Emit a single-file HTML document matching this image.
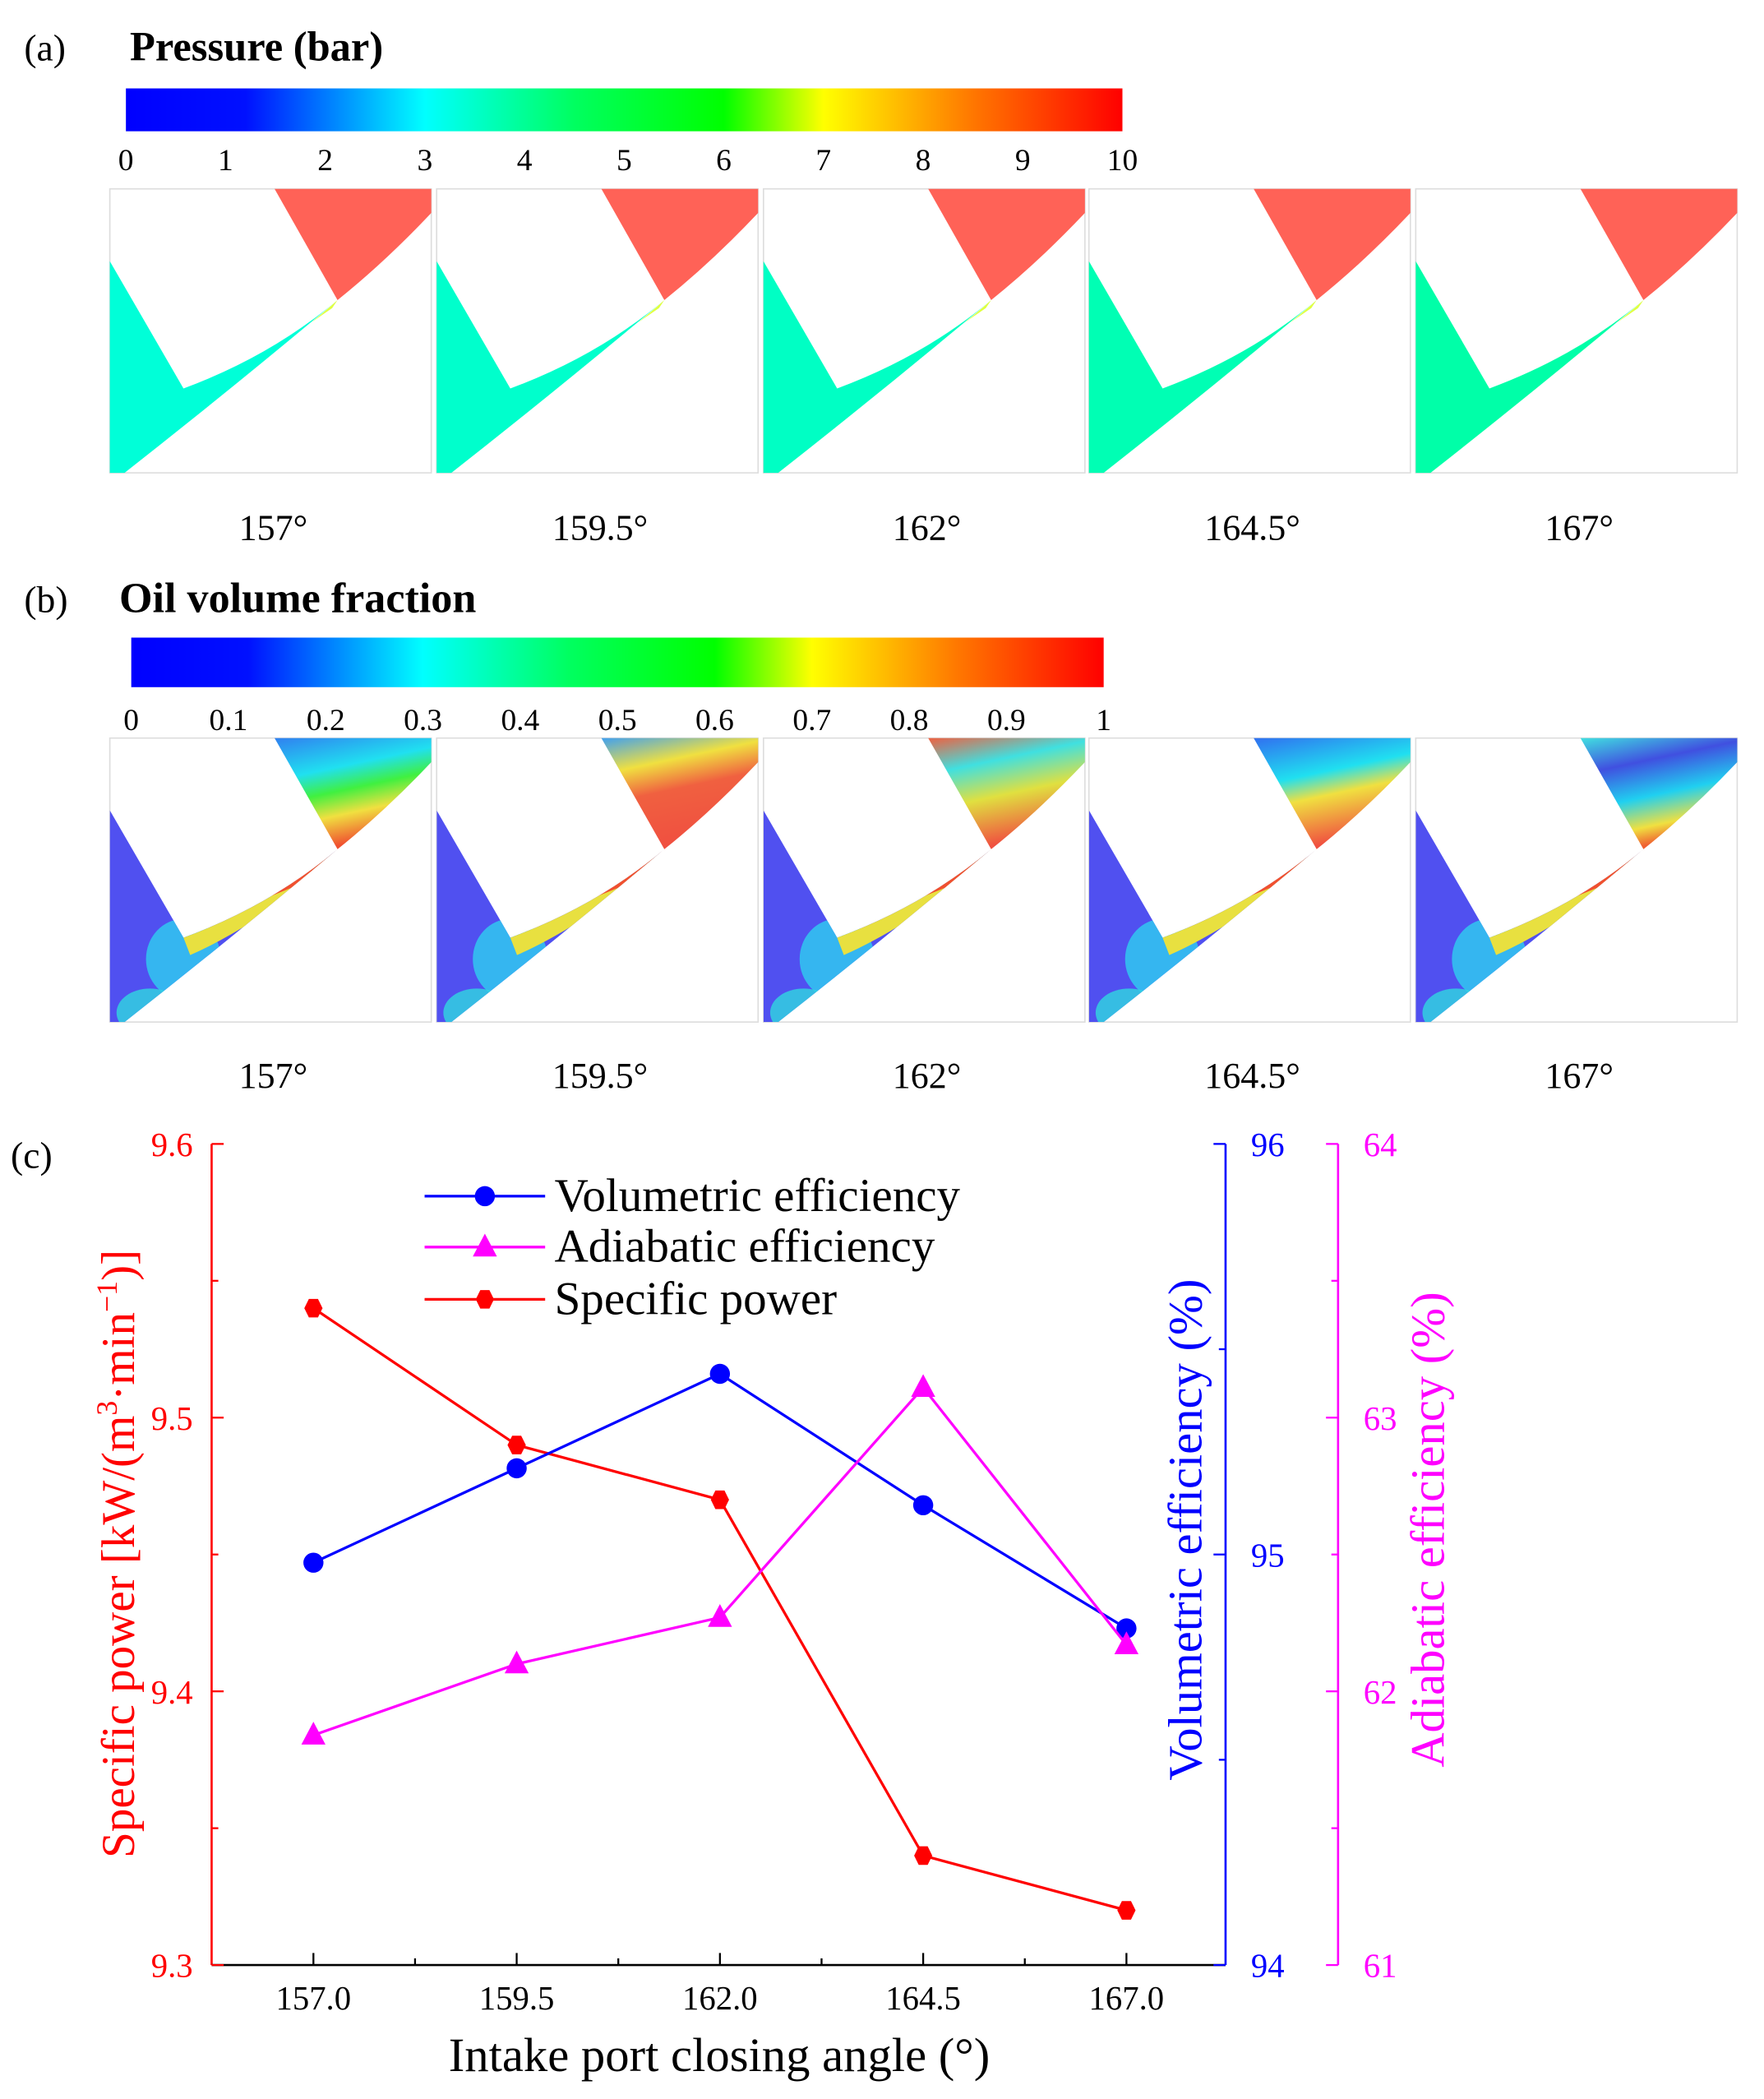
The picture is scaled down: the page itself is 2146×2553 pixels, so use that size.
<!DOCTYPE html>
<html><head><meta charset="utf-8"><style>
html,body{margin:0;padding:0;background:#fff}
svg{display:block}
text{font-family:"Liberation Serif",serif}
</style></head><body>
<svg id="fig" width="2146" height="2553" viewBox="0 0 1317 1567" preserveAspectRatio="none" xmlns="http://www.w3.org/2000/svg">
<defs>
<linearGradient id="jet" x1="0" x2="1" y1="0" y2="0">
<stop offset="0" stop-color="#0000ff"/><stop offset="0.12" stop-color="#0010ff"/><stop offset="0.3" stop-color="#00ffff"/><stop offset="0.45" stop-color="#00ff60"/><stop offset="0.6" stop-color="#00ff00"/><stop offset="0.7" stop-color="#ffff00"/><stop offset="0.85" stop-color="#ff7700"/><stop offset="1" stop-color="#ff0000"/></linearGradient>
<linearGradient id="oilR1" x1="0" x2="0.3" y1="0" y2="1"><stop offset="0" stop-color="#3080f0"/><stop offset="0.35" stop-color="#20e0f0"/><stop offset="0.55" stop-color="#40f040"/><stop offset="0.75" stop-color="#f0e040"/><stop offset="1" stop-color="#f05030"/></linearGradient>
<linearGradient id="oilR2" x1="0" x2="0.3" y1="0" y2="1"><stop offset="0" stop-color="#40a0f0"/><stop offset="0.3" stop-color="#f0e040"/><stop offset="0.55" stop-color="#f06040"/><stop offset="1" stop-color="#f05040"/></linearGradient>
<linearGradient id="oilR3" x1="0" x2="0.3" y1="0" y2="1"><stop offset="0" stop-color="#f06040"/><stop offset="0.3" stop-color="#40e0e0"/><stop offset="0.6" stop-color="#e0e040"/><stop offset="1" stop-color="#f05040"/></linearGradient>
<linearGradient id="oilR4" x1="0" x2="0.3" y1="0" y2="1"><stop offset="0" stop-color="#3070f0"/><stop offset="0.4" stop-color="#20e0f0"/><stop offset="0.6" stop-color="#f0e040"/><stop offset="1" stop-color="#f05040"/></linearGradient>
<linearGradient id="oilR5" x1="0" x2="0.3" y1="0" y2="1"><stop offset="0" stop-color="#40e0e0"/><stop offset="0.3" stop-color="#4050e0"/><stop offset="0.6" stop-color="#20d0f0"/><stop offset="0.85" stop-color="#f0e040"/><stop offset="1" stop-color="#f06030"/></linearGradient>
<clipPath id="wedge"><path d="M0,54 L55,149 Q120,125 170,83 Q90,150 11,212 L0,212 Z"/></clipPath>
</defs>

<text x="18" y="45" font-size="28">(a)</text>
<text x="97" y="45" font-size="31" font-weight="bold">Pressure (bar)</text>
<rect x="94" y="66" width="744" height="32" fill="url(#jet)"/>
<g id="pticks"></g>
<g id="prow"></g>

<text x="18" y="457" font-size="28">(b)</text>
<text x="89" y="457" font-size="32" font-weight="bold">Oil volume fraction</text>
<rect x="98" y="476" width="726" height="37" fill="url(#jet)"/>
<g id="oticks"></g>
<g id="orow"></g>

<text x="8" y="872" font-size="28">(c)</text>
<g id="chart"></g>
</svg>
<script>
const angles = [157.0, 159.5, 162.0, 164.5, 167.0];
const volEff = [94.98, 95.21, 95.44, 95.12, 94.82];
const adiEff = [61.84, 62.10, 62.27, 63.11, 62.17];
const specPow = [9.54, 9.49, 9.47, 9.34, 9.32];
const xTicks = ["157.0", "159.5", "162.0", "164.5", "167.0"];
const pLabels = ["0","1","2","3","4","5","6","7","8","9","10"];
const oLabels = ["0","0.1","0.2","0.3","0.4","0.5","0.6","0.7","0.8","0.9","1"];
const panelLabels = ["157°","159.5°","162°","164.5°","167°"];
const NS = "http://www.w3.org/2000/svg";
function mk(tag, attrs, parent, txt){const e=document.createElementNS(NS,tag);for(const k in attrs)e.setAttribute(k,attrs[k]);if(txt!==undefined)e.textContent=txt;parent.appendChild(e);return e;}

const pt=document.getElementById('pticks');
pLabels.forEach((l,i)=>{const t=mk('text',{x:94+i*74.4,y:127,'font-size':23,'text-anchor':'middle'},pt,l);

});
const ot=document.getElementById('oticks');
oLabels.forEach((l,i)=>{const t=mk('text',{x:98+i*72.6,y:545,'font-size':23,'text-anchor':'middle'},ot,l);

});

const px=[82,326,570,813,1057];
const teal=["#00ffd8","#00ffcc","#00ffc4","#00ffb4","#00ffa8"];
function panel(parent,x0,y0,i,oil){
  const g=mk('g',{transform:`translate(${x0},${y0})`},parent);
  
  
  mk('rect',{x:0,y:0,width:240,height:212,fill:'#fff',stroke:'#ddd','stroke-width':1},g);
  const rFill = oil?`url(#oilR${i+1})`:'#ff6257';
  mk('path',{d:'M123,0 L240,0 L240,18 Q205,55 170,83 Z',fill:rFill},g);
  if(oil){
    const w=mk('g',{'clip-path':'url(#wedge)'},g);
    mk('rect',{x:0,y:0,width:240,height:212,fill:'#5050f0'},w);
    mk('ellipse',{cx:55,cy:165,rx:28,ry:30,fill:'#30c8f0',opacity:0.85},w);
    mk('ellipse',{cx:30,cy:205,rx:25,ry:18,fill:'#30d8e0',opacity:0.8},w);
    mk('path',{d:'M55,149 Q120,125 170,83 L170,90 Q110,140 60,162 Z',fill:'#e8e040'},w);
    mk('path',{d:'M170,83 Q100,150 30,212 L45,212 Q110,150 170,83 Z',fill:'#40e070',opacity:0.9},w);
    mk('path',{d:'M120,118 Q150,100 170,83 L150,106 Z',fill:'#f05030'},w);
  } else {
    mk('path',{d:'M0,54 L55,149 Q120,125 170,83 Q90,150 11,212 L0,212 Z',fill:teal[i]},g);
    mk('path',{d:'M150,100 Q160,92 170,83 L166,89 Z',fill:'#e0ff40'},g);
  }
}
const prow=document.getElementById('prow'), orow=document.getElementById('orow');
px.forEach((x,i)=>{panel(prow,x,141,i,false);panel(orow,x,551,i,true);
  const a=mk('text',{x:x+122,y:403,'font-size':27,'text-anchor':'middle'},prow,panelLabels[i]);
  
  
  const b=mk('text',{x:x+122,y:812,'font-size':27,'text-anchor':'middle'},orow,panelLabels[i]);
  
  
});

const C=document.getElementById('chart');
const L=158,R=915,R2=999,T=854,B=1467;
const X=v=>234+(v-157)*60.7;
const Ys=v=>B-(v-9.3)/0.3*(B-T);
const Yv=v=>B-(v-94)/2*(B-T);
const Ya=v=>B-(v-61)/3*(B-T);
const RED='#ff0000',BLUE='#0000ff',MAG='#ff00ff';
let e;
e=mk('line',{x1:L,y1:T,x2:L,y2:B,stroke:RED,'stroke-width':1.6},C);

e=mk('line',{x1:L,y1:B,x2:R,y2:B,stroke:'#000','stroke-width':1.6},C);

e=mk('line',{x1:R,y1:T,x2:R,y2:B,stroke:BLUE,'stroke-width':1.6},C);

e=mk('line',{x1:R2,y1:T,x2:R2,y2:B,stroke:MAG,'stroke-width':1.6},C);

[9.3,9.4,9.5,9.6].forEach(v=>{mk('line',{x1:L,x2:L+9,y1:Ys(v),y2:Ys(v),stroke:RED,'stroke-width':1.4},C);
 e=mk('text',{x:L-14,y:Ys(v)+9,'font-size':25,fill:RED,'text-anchor':'end'},C,v.toFixed(1));
 });
[9.35,9.45,9.55].forEach(v=>mk('line',{x1:L,x2:L+5,y1:Ys(v),y2:Ys(v),stroke:RED,'stroke-width':1.4},C));
[94,95,96].forEach(v=>{mk('line',{x1:R,x2:R-9,y1:Yv(v),y2:Yv(v),stroke:BLUE,'stroke-width':1.4},C);
 e=mk('text',{x:R+19,y:Yv(v)+9,'font-size':25,fill:BLUE},C,String(v));
 });
[94.5,95.5].forEach(v=>mk('line',{x1:R,x2:R-5,y1:Yv(v),y2:Yv(v),stroke:BLUE,'stroke-width':1.4},C));
[61,62,63,64].forEach(v=>{mk('line',{x1:R2,x2:R2-9,y1:Ya(v),y2:Ya(v),stroke:MAG,'stroke-width':1.4},C);
 e=mk('text',{x:R2+19,y:Ya(v)+9,'font-size':25,fill:MAG},C,String(v));
 });
[61.5,62.5,63.5].forEach(v=>mk('line',{x1:R2,x2:R2-5,y1:Ya(v),y2:Ya(v),stroke:MAG,'stroke-width':1.4},C));
angles.forEach((v,i)=>{mk('line',{x1:X(v),x2:X(v),y1:B,y2:B-9,stroke:'#000','stroke-width':1.4},C);
 e=mk('text',{x:X(v),y:B+33,'font-size':25,'text-anchor':'middle'},C,xTicks[i]);
 
 if(i<angles.length-1) mk('line',{x1:X(v+1.25),x2:X(v+1.25),y1:B,y2:B-5,stroke:'#000','stroke-width':1.4},C);});
e=mk('text',{x:537,y:1546,'font-size':36,'text-anchor':'middle'},C,'Intake port closing angle (°)');

e=mk('text',{x:0,y:0,'font-size':35,fill:RED,'text-anchor':'middle',transform:'translate(100,1160) rotate(-90)'},C);
e.innerHTML='Specific power [kW/(m<tspan font-size="22" dy="-13">3</tspan><tspan dy="13">·min</tspan><tspan font-size="22" dy="-13">−1</tspan><tspan dy="13">)]</tspan>';

e=mk('text',{x:0,y:0,'font-size':36,fill:BLUE,'text-anchor':'middle',transform:'translate(897,1142) rotate(-90)'},C,'Volumetric efficiency (%)');

e=mk('text',{x:0,y:0,'font-size':36,fill:MAG,'text-anchor':'middle',transform:'translate(1078,1142) rotate(-90)'},C,'Adiabatic efficiency (%)');

function hex(cx,cy,r){let p=[];for(let k=0;k<6;k++){const a=k*Math.PI/3;p.push((cx+r*0.85*Math.cos(a)).toFixed(1)+','+(cy+r*Math.sin(a)).toFixed(1));}return p.join(' ');}
function series(vals,Y,col,shape,name){
 const pts=vals.map((v,i)=>X(angles[i])+','+Y(v)).join(' ');
 const l=mk('polyline',{points:pts,fill:'none',stroke:col,'stroke-width':2},C);
 
 vals.forEach((v,i)=>{const x=X(angles[i]),y=Y(v);let m;
  if(shape==='c')m=mk('circle',{cx:x,cy:y,r:7.5,fill:col},C);
  else if(shape==='t')m=mk('polygon',{points:`${x},${y-10} ${x-9},${y+7} ${x+9},${y+7}`,fill:col},C);
  else m=mk('polygon',{points:hex(x,y,8),fill:col},C);
  });
}
series(specPow,Ys,RED,'h','specific-power');
series(volEff,Yv,BLUE,'c','volumetric-efficiency');
series(adiEff,Ya,MAG,'t','adiabatic-efficiency');
const leg=[["Volumetric efficiency",BLUE,'c',893],["Adiabatic efficiency",MAG,'t',931],["Specific power",RED,'h',970]];
leg.forEach(([t,col,s,y])=>{mk('line',{x1:317,x2:407,y1:y,y2:y,stroke:col,'stroke-width':2},C);
 if(s==='c')mk('circle',{cx:362,cy:y,r:7.5,fill:col},C);
 else if(s==='t')mk('polygon',{points:`362,${y-10} 353,${y+7} 371,${y+7}`,fill:col},C);
 else mk('polygon',{points:hex(362,y,8),fill:col},C);
 const tx=mk('text',{x:414,y:y+11,'font-size':35},C,t);
 });
</script>
</body></html>
